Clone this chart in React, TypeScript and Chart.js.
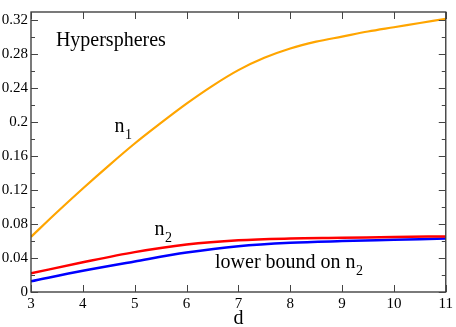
import React, { useEffect, useRef } from "react";
import { Chart, registerables } from "chart.js";

Chart.register(...registerables);

// ---- data ----
const dHalf = [3, 3.5, 4, 4.5, 5, 5.5, 6, 6.5, 7, 7.5, 8, 8.5, 9, 9.5, 10, 10.5, 11];
const n1Values = [0.065, 0.094, 0.122, 0.149, 0.175, 0.199, 0.222, 0.243, 0.2615, 0.276, 0.287, 0.295, 0.301, 0.307, 0.312, 0.317, 0.322];

const dInt = [3, 4, 5, 6, 7, 8, 9, 10, 11];
const n2Values = [0.022, 0.035, 0.047, 0.056, 0.061, 0.063, 0.0638, 0.0648, 0.0655];
const lowerBoundValues = [0.0125, 0.025, 0.036, 0.0465, 0.054, 0.058, 0.06, 0.0615, 0.063];

const xTickValues = [3, 4, 5, 6, 7, 8, 9, 10, 11];
const yTickValues = [0, 0.04, 0.08, 0.12, 0.16, 0.2, 0.24, 0.28, 0.32];

const FAMILY = "Liberation Serif, Tinos, Times New Roman, Times, serif";
Chart.defaults.font.family = FAMILY;

const framePlugin = {
  id: "frameTicks",
  afterDraw(chart: any) {
    const ctx = chart.ctx;
    const { left, right, top, bottom } = chart.chartArea;
    const x = chart.scales.x;
    const y = chart.scales.y;
    ctx.save();
    ctx.strokeStyle = "#333";
    ctx.lineWidth = 1.3;
    ctx.strokeRect(left, top, right - left, bottom - top);
    ctx.lineWidth = 1;
    ctx.strokeStyle = "#444";
    const major = 7;
    const minor = 4;
    ctx.beginPath();
    xTickValues.forEach((v) => {
      const px = Math.round(x.getPixelForValue(v)) + 0.5;
      ctx.moveTo(px, bottom);
      ctx.lineTo(px, bottom - major);
      ctx.moveTo(px, top);
      ctx.lineTo(px, top + major);
    });
    yTickValues.forEach((v, i) => {
      const py = Math.round(y.getPixelForValue(v)) + 0.5;
      ctx.moveTo(left, py);
      ctx.lineTo(left + major, py);
      ctx.moveTo(right, py);
      ctx.lineTo(right - major, py);
      if (i < yTickValues.length - 1) {
        const mv = (v + yTickValues[i + 1]) / 2;
        const my = Math.round(y.getPixelForValue(mv)) + 0.5;
        ctx.moveTo(left, my);
        ctx.lineTo(left + minor, my);
        ctx.moveTo(right, my);
        ctx.lineTo(right - minor, my);
      }
    });
    ctx.stroke();
    ctx.restore();

    // annotations
    ctx.save();
    ctx.fillStyle = "#000";
    const put = (main: string, sub: string | null, dx: number, dy: number) => {
      const px = x.getPixelForValue(dx);
      const py = y.getPixelForValue(dy);
      ctx.font = "20px " + FAMILY;
      ctx.textAlign = "left";
      ctx.textBaseline = "alphabetic";
      ctx.fillText(main, px, py);
      if (sub) {
        const w = ctx.measureText(main).width;
        ctx.font = "14px " + FAMILY;
        ctx.fillText(sub, px + w + 0.5, py + 7);
      }
    };
    put("Hyperspheres", null, 3.48, 0.2905);
    put("n", "1", 4.61, 0.188);
    put("n", "2", 5.38, 0.067);
    put("lower bound on n", "2", 6.55, 0.0284);

    ctx.font = "20px " + FAMILY;
    ctx.textAlign = "center";
    ctx.textBaseline = "alphabetic";
    ctx.fillText("d", x.getPixelForValue(7), 324);
    ctx.restore();
  },
};

export default function App() {
  const ref = useRef<HTMLCanvasElement | null>(null);
  useEffect(() => {
    const chart = new Chart(ref.current!, {
      type: "line",
      data: {
        datasets: [
          {
            label: "n1",
            data: dHalf.map((d, i) => ({ x: d, y: n1Values[i] })),
            borderColor: "#FFA500",
            borderWidth: 2.2,
            pointRadius: 0,
            cubicInterpolationMode: "monotone",
          },
          {
            label: "n2",
            data: dInt.map((d, i) => ({ x: d, y: n2Values[i] })),
            borderColor: "#FF0000",
            borderWidth: 2.5,
            pointRadius: 0,
            cubicInterpolationMode: "monotone",
          },
          {
            label: "lower bound on n2",
            data: dInt.map((d, i) => ({ x: d, y: lowerBoundValues[i] })),
            borderColor: "#0000FF",
            borderWidth: 2.5,
            pointRadius: 0,
            cubicInterpolationMode: "monotone",
          },
        ],
      },
      options: {
        animation: false,
        responsive: false,
        font: { family: FAMILY },
        layout: { padding: { top: 1, right: 8, left: 0, bottom: 0 } },
        plugins: { legend: { display: false }, tooltip: { enabled: false } },
        scales: {
          x: {
            type: "linear",
            min: 3,
            max: 11,
            grid: { display: false, drawTicks: false },
            border: { display: false },
            afterFit: (s: any) => {
              s.height = 35;
            },
            ticks: {
              stepSize: 1,
              padding: 3,
              maxRotation: 0,
              color: "#000",
              font: { family: FAMILY, size: 15 },
            },
          },
          y: {
            type: "linear",
            min: 0,
            max: 0.33,
            grid: { display: false, drawTicks: false },
            border: { display: false },
            afterFit: (s: any) => {
              s.width = 31;
            },
            ticks: {
              stepSize: 0.04,
              includeBounds: false,
              padding: 3,
              color: "#000",
              font: { family: FAMILY, size: 15 },
              callback: (v: any) => String(Number(Number(v).toFixed(2))),
            },
          },
        },
      },
      plugins: [framePlugin],
    } as any);
    return () => chart.destroy();
  }, []);
  return (
    <div style={{ position: "fixed", left: 0, top: 0 }}>
      <canvas ref={ref} width={456} height={327} />
    </div>
  );
}
